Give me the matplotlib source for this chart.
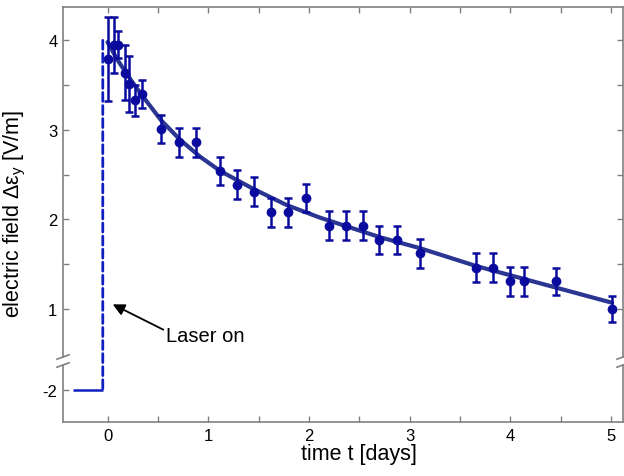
"""
Decay of the electric field after the laser is switched on (broken y axis).
Writes out.png.
"""
import matplotlib
matplotlib.use('Agg')

import matplotlib.pyplot as plt
from matplotlib.lines import Line2D
from matplotlib.patches import ConnectionPatch
from matplotlib.ticker import MultipleLocator, FixedLocator

plt.rcParams['font.family'] = ['Liberation Sans', 'DejaVu Sans']
plt.rcParams['mathtext.fontset'] = 'custom'
plt.rcParams['mathtext.rm'] = 'Liberation Sans'
plt.rcParams['mathtext.it'] = 'Liberation Sans'
plt.rcParams['axes.unicode_minus'] = False

# measured points (days, V/m)
t_data = [0.00, 0.06, 0.10, 0.17, 0.21, 0.27, 0.34, 0.53, 0.71, 0.88,
          1.12, 1.29, 1.45, 1.62, 1.79, 1.97, 2.20, 2.37, 2.54, 2.70,
          2.87, 3.10, 3.66, 3.83, 4.00, 4.14, 4.45, 5.01]
e_data = [3.79, 3.95, 3.95, 3.64, 3.51, 3.33, 3.40, 3.01, 2.86, 2.86,
          2.54, 2.39, 2.31, 2.08, 2.08, 2.24, 1.93, 1.93, 1.93, 1.77,
          1.77, 1.62, 1.46, 1.46, 1.31, 1.31, 1.31, 1.00]
e_err = [0.47, 0.31, 0.15, 0.31, 0.31, 0.17, 0.16, 0.16, 0.16, 0.16,
         0.16, 0.16, 0.16, 0.16, 0.16, 0.16, 0.16, 0.16, 0.16, 0.16,
         0.16, 0.16, 0.16, 0.16, 0.16, 0.16, 0.15, 0.15]

# fit curve
t_fit = [0.00, 0.10, 0.23, 0.34, 0.53, 0.72, 0.92, 1.12, 1.45, 1.78,
         2.11, 2.71, 3.10, 3.66, 4.45, 5.01]
e_fit = [3.98, 3.78, 3.56, 3.39, 3.11, 2.89, 2.70, 2.54, 2.34, 2.16,
         2.02, 1.80, 1.68, 1.48, 1.24, 1.07]

# laser-off level and switch-on time
t_off = [-0.347, -0.047]
e_off = [-2.0, -2.0]
t_laser = -0.047
e_laser_top = 4.0

POINT_COLOR = '#0a0a9e'
FIT_COLOR = '#2b3592'
STEP_COLOR = '#1020c0'
FRAME = '#808080'
W, H = 624, 477


def _fig_box(left, top, right, bottom):
    # pixel box (y downwards) -> figure fraction rect
    return [left / W, 1 - bottom / H, (right - left) / W, (bottom - top) / H]


def _style(ax):
    for side in ax.spines.values():
        side.set_color(FRAME)
        side.set_linewidth(1.2)
    ax.tick_params(which='both', direction='in', length=4.3, width=1.0,
                   color=FRAME, labelsize=12, pad=4)


fig = plt.figure(figsize=(6.24, 4.77), dpi=100)
ax_top = fig.add_axes(_fig_box(63, 8, 623, 358))
ax_bot = fig.add_axes(_fig_box(63, 366, 623, 423))

for ax in (ax_top, ax_bot):
    ax.set_xlim(-0.442, 5.119)
    ax.xaxis.set_major_locator(MultipleLocator(1))
    ax.xaxis.set_minor_locator(MultipleLocator(0.5))
    _style(ax)

ax_top.set_ylim(0.464, 4.372)
ax_top.yaxis.set_major_locator(FixedLocator([1, 2, 3, 4]))
ax_top.yaxis.set_minor_locator(FixedLocator([1.5, 2.5, 3.5]))
ax_top.spines['bottom'].set_visible(False)
ax_top.tick_params(axis='x', which='both', bottom=False, top=True,
                   labelbottom=False)
ax_top.tick_params(axis='y', which='both', left=True, right=True)

ax_bot.set_ylim(-2.36, -1.724)
ax_bot.yaxis.set_major_locator(FixedLocator([-2]))
ax_bot.yaxis.set_minor_locator(FixedLocator([]))
ax_bot.spines['top'].set_visible(False)
ax_bot.tick_params(axis='x', which='both', bottom=True, top=False)
ax_bot.tick_params(axis='y', which='both', left=True, right=False)

ax_top.plot(t_fit, e_fit, color=FIT_COLOR, lw=3.0, zorder=2,
            solid_capstyle='round')
ax_top.errorbar(t_data, e_data, yerr=e_err, fmt='o', color=POINT_COLOR,
                ms=6, elinewidth=1.8, capsize=3, capthick=1.8, zorder=3)

ax_bot.plot(t_off, e_off, color=STEP_COLOR, lw=1.8, solid_capstyle='butt')
step = ConnectionPatch(xyA=(t_laser, e_laser_top), coordsA=ax_top.transData,
                       xyB=(t_laser, e_off[0]), coordsB=ax_bot.transData,
                       color=STEP_COLOR, lw=2.0, linestyle=(0, (3.2, 1.5)),
                       arrowstyle='-', shrinkA=0, shrinkB=0)
fig.add_artist(step)

ax_top.annotate('', xy=(0.052, 1.052), xytext=(0.554, 0.769),
                arrowprops=dict(arrowstyle='-|>,head_length=0.5,head_width=0.25',
                                color='black', lw=1.3, mutation_scale=14,
                                shrinkA=0, shrinkB=0))
ax_top.text(0.578, 0.646, 'Laser on', fontsize=14.5, ha='left', va='baseline')

# axis break marks on both spines
for x_px in (63, 623):
    for y_px in (358, 366):
        xs = [(x_px - 6) / W, (x_px + 6) / W]
        ys = [1 - (y_px + 2.2) / H, 1 - (y_px - 2.2) / H]
        fig.add_artist(Line2D(xs, ys, color=FRAME, lw=1.2))

ax_bot.set_xlabel('time t [days]', fontsize=15.5)
ax_bot.xaxis.set_label_coords(0.529, -0.37)
ax_top.set_ylabel(r'electric field $\Delta\varepsilon_y$ [V/m]', fontsize=15.5)
ax_top.yaxis.set_label_coords(-0.062, 0.413)

fig.savefig('out.png', dpi=100)
